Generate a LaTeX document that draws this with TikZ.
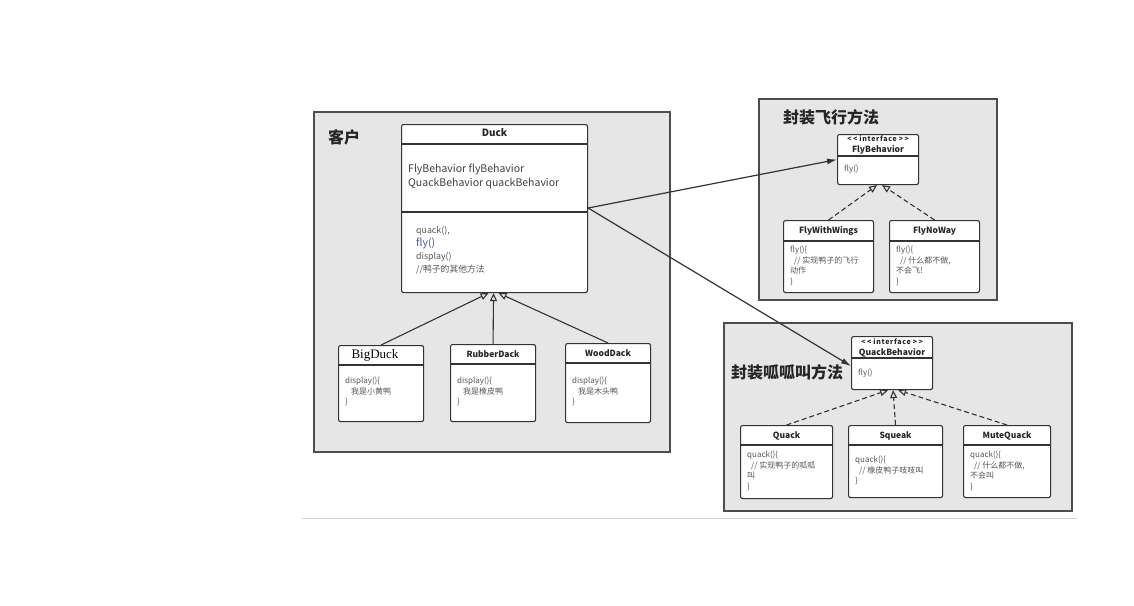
\documentclass[tikz,border=0pt]{standalone}
\usepackage{fontspec}
\setmainfont{Noto Sans CJK SC}
\newfontfamily\duckserif{Liberation Serif}
\usetikzlibrary{arrows.meta}
\definecolor{groupfill}{HTML}{E6E6E6}
\definecolor{groupline}{HTML}{4D4D4D}
\definecolor{boxline}{HTML}{333333}
\definecolor{bodytext}{HTML}{555555}
\definecolor{flyblue}{HTML}{3E5A9A}
\definecolor{rulegray}{HTML}{D0D0D0}
\newcommand{\stereotxt}{<\kern1.5pt<\kern2pt interface\kern2pt>\kern1.5pt>}
\tikzset{
	groupbox/.style={draw=groupline, fill=groupfill, line width=1.2pt},
	classbox/.style={draw=boxline, fill=white, line width=1.1pt, rounded corners=2pt, inner sep=0pt, anchor=north west},
	classname/.style={font=\bfseries\fontsize{8.5}{9}\selectfont, text=black!85, inner sep=0pt},
	stereo/.style={font=\bfseries\fontsize{7}{8}\selectfont\addfontfeature{LetterSpace=10}, text=black!85, inner sep=0pt},
	bodytxt/.style={font=\fontsize{8}{10.5}\selectfont, text=bodytext, align=left, anchor=north west, inner sep=0pt},
	grouptitle/.style={font=\bfseries\fontsize{16}{17}\selectfont, text=black!85, anchor=west, inner sep=0pt},
	inherit/.style={draw=boxline, line width=1.1pt, -{Triangle[open, length=8pt, width=7pt]}},
	realize/.style={inherit, dash pattern=on 5pt off 3pt},
	assoc/.style={draw=boxline, line width=1.2pt, -{Latex[length=10pt, width=6pt]}},
}
\newcommand{\ClassBox}[6]{
	\node[classbox, minimum width={#4pt-#2pt}, minimum height={#5pt-#3pt}] (#1) at (#2,#3) {};
	\draw[boxline, line width=1.1pt] (#1.west |- 0,#6) -- (#1.east |- 0,#6);
}
\begin{document}
\begin{tikzpicture}[x=1pt, y=-1pt]
		\useasboundingbox (0,0) rectangle (1134,605);
		\draw[rulegray, line width=1pt] (302,518) -- (1077,518);
		% groups
		\draw[groupbox] (314,112) rectangle (670,452);
		\draw[groupbox] (759,99) rectangle (997,300);
		\draw[groupbox] (724,323) rectangle (1072,511);
		\node[grouptitle] (clienttitle) at (328,137) {客户};
		\node[grouptitle] (flytitle) at (783,117) {封装飞行方法};
		\node[grouptitle] (quacktitle) at (731,372) {封装呱呱叫方法};
		% client
		\ClassBox{duck}{401}{124}{587}{292}{144}
		\draw[boxline, line width=1.1pt] (duck.west |- 0,212) -- (duck.east |- 0,212);
		\node[classname, font=\bfseries\fontsize{10}{11}\selectfont] at (duck.north |- 0,133) {Duck};
		\node[bodytxt, font=\fontsize{10.5}{14}\selectfont, text=black!75] (duckattr) at (408,164) {FlyBehavior flyBehavior\\QuackBehavior quackBehavior};
		\node[bodytxt, font=\fontsize{8.8}{13}\selectfont] (duckops) at (416,226) {quack(),\\{\color{flyblue}\fontsize{10.5}{13}\selectfont fly()}\\display()\\//鸭子的其他方法};
		\ClassBox{bigduck}{338}{345}{423}{421}{365}
		\node[font=\duckserif\fontsize{13}{14}\selectfont, inner sep=0pt] at (375,355) {BigDuck};
		\node[bodytxt] at (345,377) {display()\{\\\hspace*{6pt}我是小黄鸭\\\}};
		\ClassBox{rubberduck}{450}{344}{535}{421}{364}
		\node[classname] at (rubberduck.north |- 0,354) {RubberDack};
		\node[bodytxt] at (457,377) {display()\{\\\hspace*{6pt}我是橡皮鸭\\\}};
		\ClassBox{woodduck}{565}{343}{650}{422}{363}
		\node[classname] at (woodduck.north |- 0,353) {WoodDack};
		\node[bodytxt] at (572,377) {display()\{\\\hspace*{6pt}我是木头鸭\\\}};
		\draw[inherit] (bigduck.north) -- ([xshift=-6pt]duck.south);
		\draw[inherit] (rubberduck.north) -- ([xshift=-1pt]duck.south);
		\draw[inherit] (woodduck.north) -- ([xshift=4pt]duck.south);
		% fly
		\ClassBox{flybeh}{837}{134}{918}{184}{156}
		\node[stereo] at (flybeh.north |- 0,139) {\stereotxt};
		\node[classname] at (flybeh.north |- 0,150) {FlyBehavior};
		\node[bodytxt] at (844,165) {fly()};
		\ClassBox{flywings}{783}{220}{873}{292}{241}
		\node[classname] at (flywings.north |- 0,231) {FlyWithWings};
		\node[bodytxt] at (790,246) {fly()\{\\\hspace*{4pt}// 实现鸭子的飞行\\动作\\\}};
		\ClassBox{flynoway}{889}{220}{979}{292}{241}
		\node[classname] at (flynoway.north |- 0,231) {FlyNoWay};
		\node[bodytxt] at (896,246) {fly()\{\\\hspace*{4pt}// 什么都不做,\\不会飞!\\\}};
		\draw[realize] (flywings.north) -- ([xshift=-1pt]flybeh.south);
		\draw[realize] (flynoway.north) -- ([xshift=4pt]flybeh.south);
		% quack
		\ClassBox{quackbeh}{851}{336}{932}{389}{358}
		\node[stereo] at (quackbeh.north |- 0,342) {\stereotxt};
		\node[classname] at (quackbeh.north |- 0,353) {QuackBehavior};
		\node[bodytxt] at (858,369) {fly()};
		\ClassBox{quack}{740}{425}{832}{498}{445}
		\node[classname] at (quack.north |- 0,436) {Quack};
		\node[bodytxt] at (747,451) {quack()\{\\\hspace*{4pt}// 实现鸭子的呱呱\\叫\\\}};
		\ClassBox{squeak}{848}{425}{942}{497}{445}
		\node[classname] at (squeak.north |- 0,436) {Squeak};
		\node[bodytxt] at (855,456) {quack()\{\\\hspace*{4pt}// 橡皮鸭子吱吱叫\\\}};
		\ClassBox{mutequack}{963}{425}{1050}{497}{445}
		\node[classname] at (mutequack.north |- 0,436) {MuteQuack};
		\node[bodytxt] at (970,451) {quack()\{\\\hspace*{4pt}// 什么都不做,\\不会叫\\\}};
		\draw[realize] (quack.north) -- ([xshift=-4pt]quackbeh.south);
		\draw[realize] (squeak.north) -- ([xshift=1pt]quackbeh.south);
		\draw[realize] (mutequack.north) -- ([xshift=6pt]quackbeh.south);
		% links
		\coordinate (duckport) at (duck.east |- 0,208);
		\draw[assoc] (duckport) -- (flybeh.west);
		\draw[assoc] (duckport) -- (quackbeh.west |- 0,366);
	\end{tikzpicture}
\end{document}
